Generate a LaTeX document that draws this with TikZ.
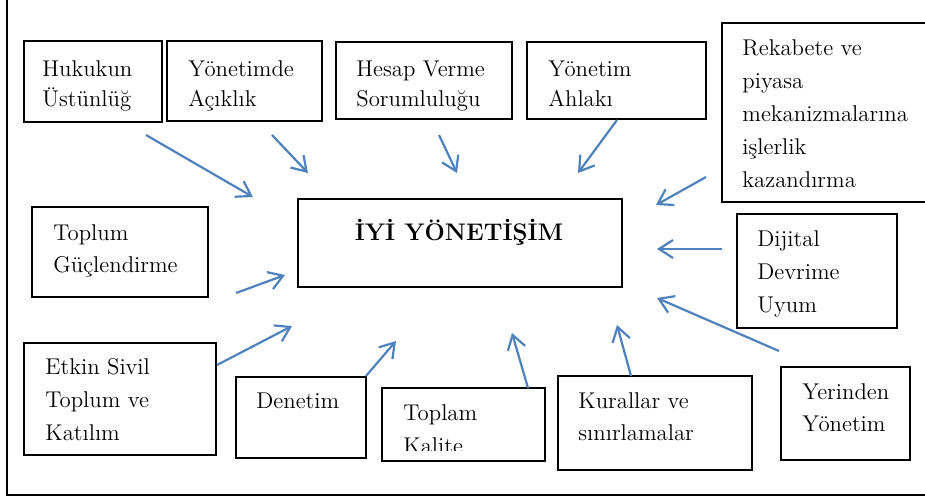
\documentclass[tikz,border=0pt]{standalone}
\usetikzlibrary{arrows.meta}
\definecolor{okmavi}{RGB}{79,129,189}
\tikzset{
  kutu/.style={draw, line width=0.55pt},
  yazi/.style={anchor=base west, align=left, inner sep=0pt, font=\fontsize{11.4}{15}\selectfont},
  genis/.style={font=\fontsize{11.4}{16.5}\selectfont},
  ok/.style={draw=okmavi, line width=1.1pt, -{Straight Barb[length=7pt,width=9pt]}}
}
\begin{document}
\begin{tikzpicture}[x=0.5pt, y=-0.5pt]
        \useasboundingbox (0,0) rectangle (925,499);
        % cerceve
        \draw[line width=1pt] (7,0) -- (7,495) -- (925,495);

        % kutular
        \node[kutu, minimum width=69pt, minimum height=40.5pt] (hukuk) at (93,81.5) {};
        \node[kutu, minimum width=77.5pt, minimum height=40pt] (acik) at (244.5,81) {};
        \node[kutu, minimum width=88pt, minimum height=38.5pt] (hesap) at (424,80.5) {};
        \node[kutu, minimum width=89.5pt, minimum height=38.5pt] (ahlak) at (616.5,80.5) {};
        \node[kutu, minimum width=106.5pt, minimum height=89.5pt] (rekabet) at (828.5,112.5) {};
        \node[kutu, minimum width=162pt, minimum height=44pt] (iyi) at (460,243) {};
        \node[kutu, minimum width=88pt, minimum height=45pt] (toplum) at (120,252) {};
        \node[kutu, minimum width=80pt, minimum height=57pt] (dijital) at (817,271) {};
        \node[kutu, minimum width=96pt, minimum height=56pt] (etkin) at (120,399) {};
        \node[kutu, minimum width=65pt, minimum height=40.5pt] (denetim) at (301,417.5) {};
        \node[kutu, minimum width=81.5pt, minimum height=36.5pt] (toplam) at (463.5,424.5) {};
        \node[kutu, minimum width=97pt, minimum height=47pt] (kural) at (655,423) {};
        \node[kutu, minimum width=64.5pt, minimum height=46.5pt] (yerinden) at (845.5,413.5) {};

        % yazilar (konum = son satirin taban cizgisi)
        \node[yazi] (hukukY) at (42,106) {Hukukun\\Üstünlüğ};
        \node[yazi] (acikY) at (188,106) {Yönetimde\\Açıklık};
        \node[yazi] (hesapY) at (356,106) {Hesap Verme\\Sorumluluğu};
        \node[yazi] (ahlakY) at (548,106) {Yönetim\\Ahlakı};
        \node[yazi, genis] (rekabetY) at (742,187) {Rekabete ve\\piyasa\\mekanizmalarına\\işlerlik\\kazandırma};
        \node[anchor=base, inner sep=0pt, font=\fontsize{12}{14}\selectfont\bfseries] (iyiY) at (459,240) {İYİ YÖNETİŞİM};
        \node[yazi, font=\fontsize{11.4}{16}\selectfont] (toplumY) at (53,272) {Toplum\\Güçlendirme};
        \node[yazi, genis] (dijitalY) at (757,312) {Dijital\\Devrime\\Uyum};
        \node[yazi, genis] (etkinY) at (45,440) {Etkin Sivil\\Toplum ve\\Katılım};
        \node[yazi] (denetimY) at (256,408) {Denetim};
        \begin{scope}
          \clip (382,388) rectangle (545,450);
          \node[yazi, genis] (toplamY) at (403,453) {Toplam\\Kalite};
        \end{scope}
        \node[yazi, font=\fontsize{11.4}{16}\selectfont] (kuralY) at (578,440) {Kurallar ve\\sınırlamalar};
        \node[yazi, font=\fontsize{11.4}{16}\selectfont] (yerindenY) at (802,431) {Yerinden\\Yönetim};

        % ok uclari
        \coordinate (hukukB) at (146,135);   \coordinate (hukukU) at (253,197);
        \coordinate (acikB) at (272,135);    \coordinate (acikU) at (308,173);
        \coordinate (hesapB) at (439,135);   \coordinate (hesapU) at (457,173);
        \coordinate (ahlakB) at (617,120);   \coordinate (ahlakU) at (578,173);
        \coordinate (rekabetB) at (706,177); \coordinate (rekabetU) at (656,205);
        \coordinate (dijitalB) at (722,249); \coordinate (dijitalU) at (657,249);
        \coordinate (yerindenB) at (779,351);\coordinate (yerindenU) at (657,298);
        \coordinate (kuralB) at (631,376);   \coordinate (kuralU) at (617,325);
        \coordinate (toplamB) at (528,388);  \coordinate (toplamU) at (512,333);
        \coordinate (denetimB) at (366,376); \coordinate (denetimU) at (396,341);
        \coordinate (etkinB) at (217,365);   \coordinate (etkinU) at (292,326);
        \coordinate (toplumB) at (236,293);  \coordinate (toplumU) at (285,275);

        % oklar
        \draw[ok] (hukukB) -- (hukukU);
        \draw[ok] (acikB) -- (acikU);
        \draw[ok] (hesapB) -- (hesapU);
        \draw[ok] (ahlakB) -- (ahlakU);
        \draw[ok] (rekabetB) -- (rekabetU);
        \draw[ok] (dijitalB) -- (dijitalU);
        \draw[ok] (yerindenB) -- (yerindenU);
        \draw[ok] (kuralB) -- (kuralU);
        \draw[ok] (toplamB) -- (toplamU);
        \draw[ok] (denetimB) -- (denetimU);
        \draw[ok] (etkinB) -- (etkinU);
        \draw[ok] (toplumB) -- (toplumU);
    \end{tikzpicture}
\end{document}
